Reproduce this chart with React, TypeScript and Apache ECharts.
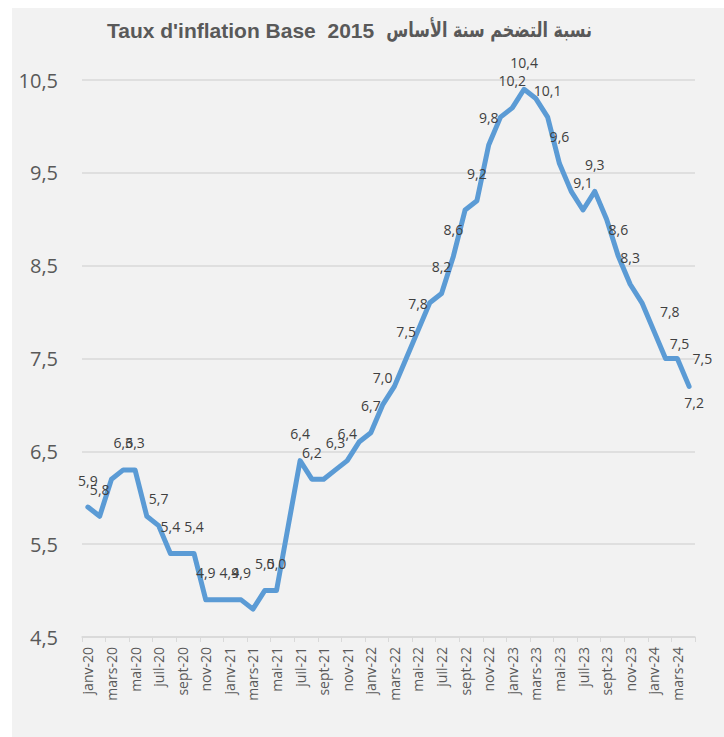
import React, { useEffect, useRef } from "react";
import * as echarts from "echarts";

const categories = [
  "janv-20", "févr-20", "mars-20", "avr-20", "mai-20", "juin-20", "juil-20", "août-20", "sept-20", "oct-20", "nov-20", "déc-20",
  "janv-21", "févr-21", "mars-21", "avr-21", "mai-21", "juin-21", "juil-21", "août-21", "sept-21", "oct-21", "nov-21", "déc-21",
  "janv-22", "févr-22", "mars-22", "avr-22", "mai-22", "juin-22", "juil-22", "août-22", "sept-22", "oct-22", "nov-22", "déc-22",
  "janv-23", "févr-23", "mars-23", "avr-23", "mai-23", "juin-23", "juil-23", "août-23", "sept-23", "oct-23", "nov-23", "déc-23",
  "janv-24", "févr-24", "mars-24", "avr-24",
];

const inflation = [
  5.9, 5.8, 6.2, 6.3, 6.3, 5.8, 5.7, 5.4, 5.4, 5.4, 4.9, 4.9,
  4.9, 4.9, 4.8, 5.0, 5.0, 5.7, 6.4, 6.2, 6.2, 6.3, 6.4, 6.6,
  6.7, 7.0, 7.2, 7.5, 7.8, 8.1, 8.2, 8.6, 9.1, 9.2, 9.8, 10.1,
  10.2, 10.4, 10.3, 10.1, 9.6, 9.3, 9.1, 9.3, 9.0, 8.6, 8.3, 8.1,
  7.8, 7.5, 7.5, 7.2,
];

// indices whose data label is not displayed
const hiddenLabels = [2, 5, 8, 11, 14, 17, 20, 23, 26, 29, 32, 35, 38, 41, 44, 47];

const yMin = 4.5;
const yMax = 10.5;
const yStep = 1;

const titleLatin = "Taux d'inflation Base  2015";
const titleArabic = "نسبة التضخم سنة الأساس";

// label placement (style, not data)
const defaultLabelOffset = [0, -27];
const specialLabelOffsets: Record<number, number[]> = {
  48: [16, -19],
  49: [14, -15],
  50: [25, 0],
  51: [5, 16],
};

const fmt = (v: number) => v.toFixed(1).replace(".", ",");

export default function App() {
  const ref = useRef<HTMLDivElement>(null);

  useEffect(() => {
    if (!ref.current) return;
    const chart = echarts.init(ref.current, undefined, { renderer: "svg" });

    const seriesData = inflation.map((v, i) => ({
      value: v,
      label: {
        show: !hiddenLabels.includes(i),
        offset: specialLabelOffsets[i] || defaultLabelOffset,
      },
    }));

    chart.setOption({
      animation: false,
      backgroundColor: "#f2f2f2",
      graphic: [
        {
          type: "text",
          x: 95,
          y: 22,
          style: {
            text: titleLatin,
            fontFamily: "Liberation Sans, Arial, sans-serif",
            fontWeight: "bold",
            fontSize: 21,
            fill: "#595959",
            textAlign: "left",
            textVerticalAlign: "middle",
          },
        },
        {
          type: "text",
          x: 580,
          y: 22,
          scaleX: 0.76,
          style: {
            text: titleArabic,
            fontFamily: "DejaVu Sans, sans-serif",
            fontWeight: "bold",
            fontSize: 21,
            fill: "#595959",
            textAlign: "right",
            textVerticalAlign: "middle",
          },
        },
      ],
      grid: { left: 70, right: 29, top: 72, bottom: 100, containLabel: false },
      xAxis: {
        type: "category",
        data: categories,
        boundaryGap: true,
        axisLine: { show: true, lineStyle: { color: "#d9d9d9", width: 1.5 } },
        axisTick: { show: true, interval: 1, length: 5, lineStyle: { color: "#d9d9d9", width: 1 } },
        axisLabel: {
          interval: 1,
          rotate: 90,
          margin: 10,
          fontFamily: "Open Sans",
          fontSize: 14,
          color: "#595959",
        },
        splitLine: { show: false },
      },
      yAxis: {
        type: "value",
        min: yMin,
        max: yMax,
        interval: yStep,
        axisLine: { show: false },
        axisTick: { show: false },
        axisLabel: {
          margin: 24,
          fontFamily: "Open Sans",
          fontSize: 20,
          color: "#595959",
          formatter: (v: number) => fmt(v),
        },
        splitLine: { show: true, lineStyle: { color: "#d9d9d9", width: 1.5 } },
      },
      series: [
        {
          type: "line",
          data: seriesData,
          showSymbol: true,
          symbol: "circle",
          symbolSize: 2,
          itemStyle: { color: "rgba(0,0,0,0)" },
          lineStyle: { color: "#5b9bd5", width: 5, cap: "round", join: "round" },
          label: {
            show: true,
            position: "inside",
            align: "center",
            verticalAlign: "middle",
            fontFamily: "Open Sans",
            fontSize: 14,
            color: "#404040",
            formatter: (p: any) => fmt(p.value),
          },
          emphasis: { disabled: true },
        },
      ],
    });

    return () => chart.dispose();
  }, []);

  return (
    <div
      style={{
        position: "fixed",
        left: 12,
        top: 8,
        width: 712,
        height: 729,
        background: "#f2f2f2",
      }}
    >
      <div ref={ref} style={{ width: 712, height: 729 }} />
    </div>
  );
}
